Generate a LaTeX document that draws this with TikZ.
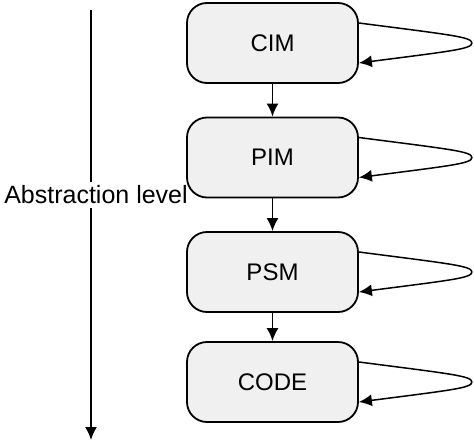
\documentclass[tikz,border=0pt]{standalone}
\usepackage{fontspec}
\setmainfont{Liberation Sans}
\usetikzlibrary{arrows.meta,calc}
\tikzset{
  lvl/.style={draw=black, line width=1.8pt, fill=gray!12, rounded corners=20pt,
    minimum width=171pt, minimum height=80pt, inner sep=0pt,
    font=\fontsize{24}{28}\selectfont},
  conn/.style={draw=black, line width=1.8pt, -{Latex[length=13pt,width=12pt]}},
  loopc/.style={draw=black, line width=1.5pt, -{Latex[length=13pt,width=12pt]}},
}
\begin{document}
\begin{tikzpicture}[x=1pt,y=-1pt]
\useasboundingbox (0,0) rectangle (474,442);
\coordinate (atop) at (91,10);
\coordinate (abot) at (91,440);
\draw[conn] (atop) -- node[pos=0.43, fill=white, inner xsep=0pt, inner ysep=4pt, xshift=5pt,
  font=\fontsize{25}{29}\selectfont] (alabel) {Abstraction level} (abot);
\node[lvl] (cim) at (272.5,43) {CIM};
\node[lvl] (pim) at (272.5,157.5) {PIM};
\node[lvl] (psm) at (272.5,272) {PSM};
\node[lvl] (code) at (272.5,382) {CODE};
\foreach \a/\b in {cim/pim,pim/psm,psm/code}{
  \draw[conn] (\a) -- (\b);
}
\foreach \n in {cim,pim,psm,code}{
  \coordinate (\n-o) at ($(\n.east)+(0,-20)$);
  \coordinate (\n-t) at ($(\n.east)+(113,0)$);
  \coordinate (\n-i) at ($(\n.east)+(0,20)$);
  \draw[loopc] (\n-o) .. controls ($(\n-t)+(-20,-8)$) and ($(\n-t)+(0,-6)$) .. (\n-t)
     .. controls ($(\n-t)+(0,6)$) and ($(\n-t)+(-20,8)$) .. (\n-i);
}
\end{tikzpicture}
\end{document}
